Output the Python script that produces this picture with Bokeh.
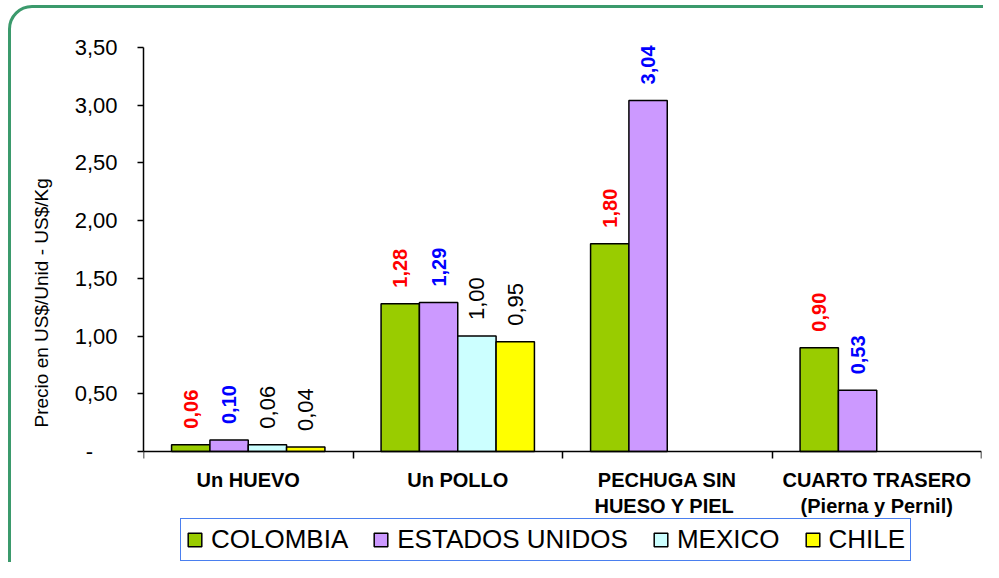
import math
from bokeh.plotting import figure
from bokeh.models import (Range1d, FixedTicker, CustomJSTickFormatter, Legend, LegendItem,
                          Title, ColumnDataSource, InlineStyleSheet)
from bokeh.core.properties import value
from bokeh.embed import file_html
from bokeh.resources import INLINE

# ---- data ----
categories = ["Un HUEVO", "Un POLLO", "PECHUGA SIN\nHUESO  Y PIEL", "CUARTO TRASERO\n(Pierna y Pernil)"]
series_names = ["COLOMBIA", "ESTADOS UNIDOS", "MEXICO", "CHILE"]
colombia = [0.06, 1.28, 1.80, 0.90]
estados_unidos = [0.10, 1.29, 3.04, 0.53]
mexico = [0.06, 1.00, None, None]
chile = [0.04, 0.95, None, None]
y_ticks = [0, 0.5, 1.0, 1.5, 2.0, 2.5, 3.0, 3.5]
y_title = "Precio en US$/Unid  -  US$/Kg"

series_values = [colombia, estados_unidos, mexico, chile]
bar_colors = ["#99CC00", "#CC99FF", "#CCFFFF", "#FFFF00"]
label_colors = ["#FF0000", "#0000FF", "#000000", "#000000"]
label_styles = ["bold", "bold", "normal", "normal"]
label_sizes = ["20px", "20px", "22px", "22px"]

FONT = "Liberation Sans"

p = figure(width=983, height=562, output_backend="svg", toolbar_location=None,
           x_range=Range1d(0, len(categories)), y_range=Range1d(-0.96, 3.55),
           min_border_left=143, min_border_right=2, min_border_top=41, min_border_bottom=0)
p.outline_line_color = None
p.xgrid.visible = False
p.ygrid.visible = False
p.background_fill_color = "white"
p.border_fill_color = "white"

w = 0.183
items = []
for j, (name, vals) in enumerate(zip(series_names, series_values)):
    xs, tops, labels = [], [], []
    for i, v in enumerate(vals):
        if v is None:
            continue
        xs.append(i + 0.5 + (j - 1.5) * w)
        tops.append(v)
        labels.append(f"{v:.2f}".replace(".", ","))
    src = ColumnDataSource(dict(x=xs, top=tops, label=labels))
    r = p.vbar(x="x", top="top", width=w, bottom=0, source=src,
               fill_color=bar_colors[j], line_color="black", line_width=1.5)
    items.append(LegendItem(label=name, renderers=[r]))
    p.text(x="x", y="top", text="label", source=src, angle=math.pi / 2,
           text_align="left", text_baseline="middle", y_offset=-16,
           text_color=label_colors[j], text_font=value(FONT),
           text_font_style=label_styles[j], text_font_size=label_sizes[j])

# x axis, drawn at y = 0
xa = p.xaxis[0]
xa.fixed_location = 0
xa.ticker = FixedTicker(ticks=[i + 0.5 for i in range(len(categories))],
                        minor_ticks=list(range(len(categories) + 1)))
xa.major_label_overrides = {i + 0.5: c for i, c in enumerate(categories)}
xa.major_tick_line_color = None
xa.minor_tick_out = 7
xa.minor_tick_in = 0
xa.minor_tick_line_color = "black"
xa.minor_tick_line_width = 1.5
xa.axis_line_color = "black"
xa.axis_line_width = 1.5
xa.major_label_text_font = FONT
xa.major_label_text_font_style = "bold"
xa.major_label_text_font_size = "20px"
xa.major_label_text_color = "black"
xa.major_label_standoff = 10

# y axis
ya = p.yaxis[0]
ya.bounds = (0, 3.5)
ya.ticker = FixedTicker(ticks=y_ticks, minor_ticks=[])
ya.formatter = CustomJSTickFormatter(code="""
    if (Math.abs(tick) < 1e-9) { return "-\u00a0\u00a0\u00a0\u00a0"; }
    return tick.toFixed(2).replace(".", ",");
""")
ya.major_tick_out = 6
ya.major_tick_in = 0
ya.major_tick_line_width = 1.5
ya.axis_line_width = 1.5
ya.axis_line_color = "black"
ya.major_label_text_font = FONT
ya.major_label_text_font_size = "22px"
ya.major_label_text_color = "black"
ya.major_label_standoff = 20

# y title
p.add_layout(Title(text=y_title, align="left", offset=135, standoff=40,
                   text_font=FONT, text_font_size="19px", text_font_style="normal",
                   text_color="black"), "left")

# legend inside the (extended) frame, under the category labels
legend = Legend(items=items, orientation="horizontal", location=(37, 1),
                label_text_font=FONT, label_text_font_size="26px", label_text_color="black",
                glyph_width=17, glyph_height=17, label_standoff=8, spacing=24,
                padding=5, margin=0, border_line_color="#4A7FEF", border_line_width=1.5,
                border_line_alpha=1, background_fill_color="white", background_fill_alpha=1)
p.add_layout(legend, "center")

# outer rounded green frame
p.stylesheets = [InlineStyleSheet(css="""
:host { position: relative; overflow: hidden; }
:host::after { content: ''; position: absolute; left: 8px; top: 5px; width: 1200px; height: 900px;
  border: 3px solid #3B9A6C; border-radius: 24px; box-sizing: border-box; pointer-events: none; }
""")]

open("out.html", "w").write(file_html(p, INLINE))
